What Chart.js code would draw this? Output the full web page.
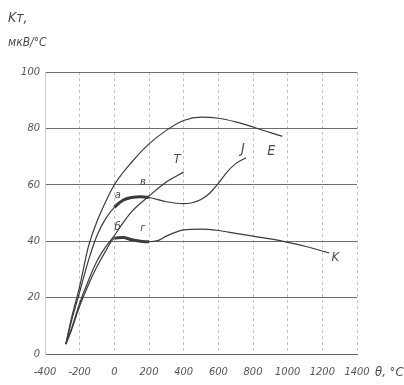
<!DOCTYPE html>
<html lang="ru">
<head>
    <meta charset="UTF-8">
    <title>Чувствительность термопар</title>
    <script src="https://cdn.jsdelivr.net/npm/chart.js"></script>
    <style>
        html, body { margin: 0; padding: 0; background: #fff; }
        #wrap { width: 404px; height: 385px; }
    </style>
</head>
<body>
    <div id="wrap"><canvas id="chart" width="404" height="385"></canvas></div>

    <script>
        // temperatures (°C) and sensitivity (мкВ/°C)
        const tempE = [-280, -250, -200, -150, -100, -50, 0, 100, 200, 300, 400, 500, 600, 700, 800, 900, 970];
        const valE  = [3.5, 12, 24, 38, 47, 54, 60, 68, 74.5, 79.3, 82.8, 84, 83.6, 82.3, 80.5, 78.5, 77.2];

        const tempJ = [-280, -250, -200, -150, -100, -50, 0, 50, 100, 150, 200, 300, 400, 500, 550, 600, 650, 700, 760];
        const valJ  = [3.5, 11, 22, 33, 42, 48, 52, 54.5, 55.5, 55.8, 55.5, 54, 53.3, 54.8, 57, 60.5, 64.5, 67.5, 69.6];

        const tempT = [-280, -250, -200, -150, -100, -50, 0, 50, 100, 200, 300, 400];
        const valT  = [3.5, 8.5, 18, 26, 33, 38, 42, 46.5, 50.5, 56, 61, 64.5];

        const tempK = [-280, -250, -200, -150, -100, -50, 0, 50, 100, 150, 200, 250, 300, 400, 500, 600, 700, 800, 900, 1000, 1100, 1240];
        const valK  = [3.5, 8, 17, 24.5, 31, 36.5, 41, 41.3, 40.5, 40, 39.8, 40.2, 41.8, 44, 44.3, 43.8, 42.8, 41.8, 40.8, 39.6, 38.2, 35.8];

        const xTicks = [-400, -200, 0, 200, 400, 600, 800, 1000, 1200, 1400];
        const yTicks = [0, 20, 40, 60, 80, 100];

        // curve names and the small letters marking the 0..200 °C range
        const curveLabels = [
            { text: 'E', x: 905, y: 72, size: 14 },
            { text: 'J', x: 742, y: 72.5, size: 14 },
            { text: 'T', x: 362, y: 69, size: 13 },
            { text: 'K', x: 1275, y: 34, size: 13 },
            { text: 'а', x: 20, y: 56.5, size: 11 },
            { text: 'в', x: 165, y: 61, size: 11 },
            { text: 'б', x: 18, y: 45, size: 11 },
            { text: 'г', x: 165, y: 44.5, size: 11 }
        ];

        const toPoints = (xs, ys) => xs.map((x, i) => ({ x: x, y: ys[i] }));

        const ink = '#3b3b3b';
        const fam = "'Liberation Sans Narrow', 'DejaVu Sans Condensed', sans-serif";

        // thick stretch between 0 and 200 °C on J and K
        const thickRange = ctx => (ctx.p0.parsed.x >= 0 && ctx.p1.parsed.x <= 200) ? 3 : undefined;

        function series(label, xs, ys, thick) {
            return {
                label: label,
                data: toPoints(xs, ys),
                borderColor: ink,
                borderWidth: 1.2,
                pointRadius: 0,
                fill: false,
                cubicInterpolationMode: 'monotone',
                segment: thick ? { borderWidth: thickRange } : undefined
            };
        }

        const textPlugin = {
            id: 'textPlugin',
            afterDraw(chart) {
                const c = chart.ctx;
                const xs = chart.scales.x, ys = chart.scales.y;
                c.save();
                c.fillStyle = '#4a4a4a';
                c.textAlign = 'center';
                c.textBaseline = 'middle';
                curveLabels.forEach(l => {
                    c.font = 'italic ' + l.size + 'px ' + fam;
                    c.fillText(l.text, xs.getPixelForValue(l.x), ys.getPixelForValue(l.y));
                });
                // axis captions
                c.textAlign = 'left';
                c.font = 'italic 14px ' + fam;
                c.fillText('Kт,', 8, 18);
                c.font = 'italic 12px ' + fam;
                c.fillText('мкВ/°C', 8, 43);
                c.font = 'italic 13px ' + fam;
                c.fillText('θ, °C', 375, 373);
                c.restore();
            }
        };

        new Chart(document.getElementById('chart'), {
            type: 'line',
            data: {
                datasets: [
                    series('E', tempE, valE, false),
                    series('J', tempJ, valJ, true),
                    series('T', tempT, valT, false),
                    series('K', tempK, valK, true)
                ]
            },
            options: {
                responsive: false,
                animation: false,
                layout: { padding: { top: 72, right: 47, bottom: 0, left: 0 } },
                plugins: {
                    legend: { display: false },
                    tooltip: { enabled: false }
                },
                scales: {
                    x: {
                        type: 'linear',
                        min: -400,
                        max: 1400,
                        afterFit: s => { s.height = 31; },
                        afterBuildTicks: s => { s.ticks = xTicks.map(v => ({ value: v })); },
                        ticks: {
                            autoSkip: false,
                            maxRotation: 0,
                            padding: 12,
                            color: '#555',
                            callback: v => String(v),
                            font: { family: fam, size: 11, style: 'italic' }
                        },
                        grid: { color: '#c4c4c4', drawTicks: false },
                        border: { display: true, color: '#6a6a6a', width: 1, dash: [3, 3] }
                    },
                    y: {
                        min: 0,
                        max: 100,
                        afterFit: s => { s.width = 45; },
                        afterBuildTicks: s => { s.ticks = yTicks.map(v => ({ value: v })); },
                        ticks: {
                            padding: 5,
                            color: '#555',
                            font: { family: fam, size: 11, style: 'italic' }
                        },
                        grid: { color: '#6e6e6e', drawTicks: false, lineWidth: 1 },
                        border: { display: true, color: '#d0d0d0', dash: [] }
                    }
                }
            },
            plugins: [textPlugin]
        });
    </script>
</body>
</html>
